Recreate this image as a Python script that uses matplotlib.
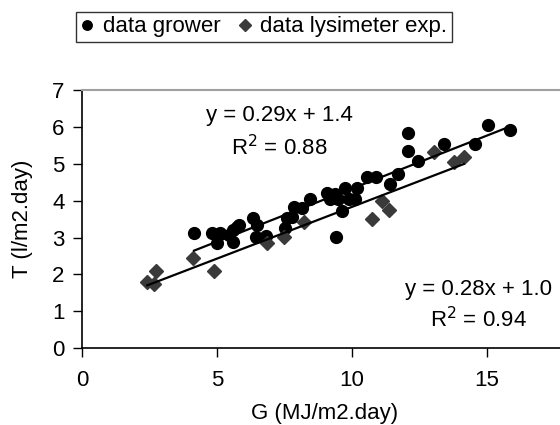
import matplotlib.pyplot as plt
import numpy as np

plt.rcParams['font.family'] = ['Liberation Sans', 'DejaVu Sans']

# data grower (circles)
g_grower = [4.15, 4.81, 4.99, 5.12, 5.43, 5.59, 5.61, 5.74, 5.83, 6.35, 6.47, 6.45,
            6.82, 7.53, 7.59, 7.78, 7.84, 8.15, 8.45, 9.07, 9.20, 9.38, 9.50, 9.75,
            9.63, 9.39, 9.88, 10.12, 10.19, 10.56, 10.90, 11.40, 11.69, 12.06, 12.06,
            12.43, 13.40, 14.54, 15.04, 15.87]
t_grower = [3.11, 3.13, 2.84, 3.11, 3.06, 2.88, 3.20, 3.29, 3.33, 3.53, 3.33, 3.02,
            3.04, 3.26, 3.53, 3.56, 3.83, 3.80, 4.04, 4.22, 4.04, 4.19, 4.04, 4.35,
            3.71, 3.02, 4.04, 4.04, 4.35, 4.63, 4.63, 4.44, 4.73, 5.35, 5.84,
            5.08, 5.55, 5.55, 6.04, 5.93]

# data lysimeter experiment (diamonds)
g_lys = [2.42, 2.67, 2.74, 4.13, 4.89, 6.87, 7.49, 8.23, 10.74, 11.11, 11.36,
         13.03, 13.79, 14.14]
t_lys = [1.80, 1.73, 2.09, 2.45, 2.09, 2.84, 3.02, 3.42, 3.51, 3.98, 3.74,
         5.32, 5.05, 5.19]

eq_grower = ["y = 0.29x + 1.4", "R$^2$ = 0.88"]
eq_lys = ["y = 0.28x + 1.0", "R$^2$ = 0.94"]

fig = plt.figure(figsize=(5.6, 4.25), dpi=100)
ax = fig.add_axes([0.1464, 0.181, 0.8679, 0.607])

ax.plot(g_grower, t_grower, 'o', color='black', ms=8.5, label='data grower', zorder=3)
ax.plot(g_lys, t_lys, 'D', color='#3a3a3a', ms=7.5, label='data lysimeter exp.', zorder=3)

# linear trendlines
for gx, ty in [(g_grower, t_grower), (g_lys, t_lys)]:
    k, b = np.polyfit(gx, ty, 1)
    xs = np.array([min(gx), max(gx)])
    ax.plot(xs, k * xs + b, color='black', lw=1.6, zorder=4)

ax.text(7.3, 6.3, eq_grower[0], fontsize=16, ha='center', va='center')
ax.text(7.3, 5.45, eq_grower[1], fontsize=16, ha='center', va='center')
ax.text(14.7, 1.6, eq_lys[0], fontsize=16, ha='center', va='center')
ax.text(14.7, 0.78, eq_lys[1], fontsize=16, ha='center', va='center')

ax.set_xlim(0, 18)
ax.set_ylim(0, 7)
ax.set_xticks([0, 5, 10, 15])
ax.set_yticks(range(8))
ax.tick_params(direction='out', length=6.5, width=1, labelsize=16)
ax.tick_params(axis='x', pad=9)
ax.tick_params(axis='y', pad=6)
ax.spines['right'].set_visible(False)
ax.spines['top'].set_color('#a0a0a0')
ax.spines['top'].set_linewidth(1.5)
ax.spines['left'].set_linewidth(1.2)
ax.spines['bottom'].set_linewidth(1.2)

ax.set_xlabel('G (MJ/m2.day)', fontsize=16, labelpad=9)
ax.set_ylabel('T (l/m2.day)', fontsize=16, labelpad=14)

leg = fig.legend(loc='upper left', bbox_to_anchor=(0.136, 0.972), ncol=2,
                 fontsize=16, frameon=True, fancybox=False, markerscale=0.8,
                 handlelength=0.6, handletextpad=0.4, columnspacing=0.8,
                 borderpad=0.2, borderaxespad=0)
leg.get_frame().set_edgecolor('black')
leg.get_frame().set_linewidth(1)

fig.savefig('out.png', dpi=100)
